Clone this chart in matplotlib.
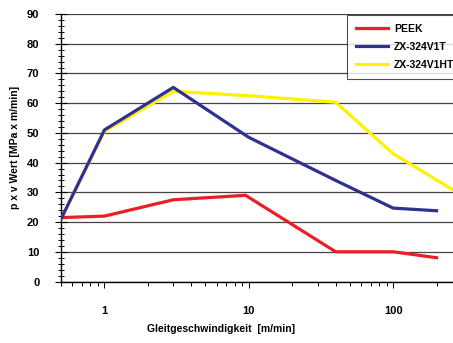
import matplotlib
matplotlib.use("Agg")
import matplotlib.pyplot as plt
from matplotlib.ticker import LogLocator, FixedLocator, MultipleLocator, NullFormatter

plt.rcParams['font.family'] = ['Liberation Sans', 'DejaVu Sans']

# data
peek_x = [0.5, 1, 3, 9.5, 40, 100, 200]
peek_y = [21.5, 22, 27.5, 29, 10, 10, 8]

v1t_x = [0.5, 1, 3, 10, 40, 100, 200]
v1t_y = [21, 51, 65.3, 48.5, 34, 24.7, 23.8]

v1ht_x = [0.5, 1, 3, 10, 40, 100, 300]
v1ht_y = [21, 50.5, 64, 62.5, 60.3, 43, 29]

names = ['PEEK', 'ZX-324V1T', 'ZX-324V1HT']
colors = ['#ee1c25', '#2e3192', '#fff200']

fig = plt.figure(figsize=(4.53, 3.43), dpi=100)
ax = fig.add_axes([61/453, (343-281.5)/343, 392/453, 267.5/343])

ax.plot(peek_x, peek_y, color=colors[0], lw=2.3, label=names[0], zorder=4)
ax.plot(v1t_x, v1t_y, color=colors[1], lw=2.3, label=names[1], zorder=4)
ax.plot(v1ht_x, v1ht_y, color=colors[2], lw=2.3, label=names[2], zorder=3)

ax.set_xscale('log')
ax.set_xlim(0.5, 260)
ax.set_ylim(0, 90)

ax.yaxis.set_major_locator(MultipleLocator(10))
ax.yaxis.set_minor_locator(MultipleLocator(2))
ax.xaxis.set_major_locator(FixedLocator([1, 10, 100]))
ax.xaxis.set_minor_locator(LogLocator(base=10, subs=range(2, 10)))
ax.xaxis.set_minor_formatter(NullFormatter())
ax.set_xticklabels(['1', '10', '100'])

ax.grid(axis='y', color='#444444', lw=0.9, zorder=1)
ax.set_axisbelow(True)
for s in ['top', 'right']:
    ax.spines[s].set_visible(False)
ax.spines['left'].set_linewidth(1.0)
ax.spines['bottom'].set_linewidth(1.0)

ax.tick_params(axis='y', which='major', direction='inout', length=9, width=0.8,
               labelsize=8, pad=11)
ax.tick_params(axis='y', which='minor', direction='inout', length=4, width=0.7)
ax.tick_params(axis='x', which='major', direction='out', length=4, width=0.7,
               labelsize=8, pad=14)
ax.tick_params(axis='x', which='minor', direction='out', length=3, width=0.7)
for t in ax.get_xticklabels() + ax.get_yticklabels():
    t.set_fontweight('bold')

ax.set_ylabel('p x v Wert [MPa x m/min]', fontsize=7.5, fontweight='bold', labelpad=12)
ax.yaxis.set_label_coords(-41/392, 0.5)
fig.text(221/453, 1 - 329/343, 'Gleitgeschwindigkeit  [m/min]', fontsize=7.5,
         fontweight='bold', ha='center', va='center')

leg = ax.legend(loc='upper left', bbox_to_anchor=(286/392, 0.998), frameon=True,
                fancybox=False, edgecolor='#222222',
                prop={'weight': 'bold', 'size': 7.5}, handlelength=3.0,
                handletextpad=0.6, borderpad=0.9, borderaxespad=0,
                labelspacing=0.75)
leg.get_frame().set_linewidth(0.8)

fig.savefig('out.png', dpi=100)
